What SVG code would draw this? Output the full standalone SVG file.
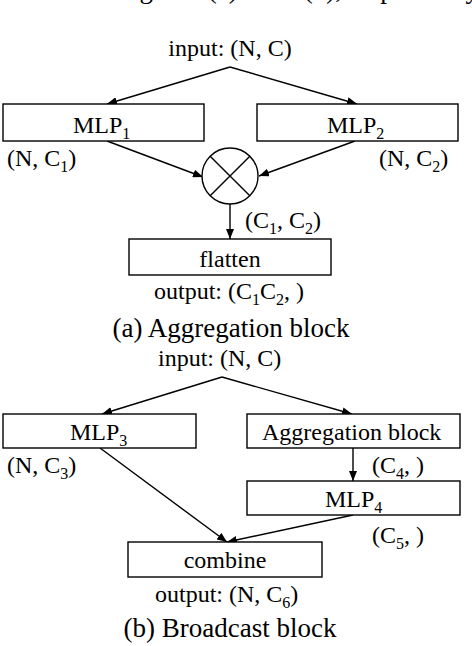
<svg xmlns="http://www.w3.org/2000/svg" width="472" height="646" viewBox="0 0 472 646">
<style>
text{font-family:"Liberation Serif","Times New Roman",serif;font-size:24px;fill:#000}
.cap{font-size:27px}
.s{font-size:16px}
.box{fill:#fff;stroke:#000;stroke-width:1.4}
.ln{fill:none;stroke:#000;stroke-width:1.4;marker-end:url(#ah)}
</style>
<defs>
<marker id="ah" markerUnits="userSpaceOnUse" markerWidth="11" markerHeight="8" refX="10" refY="4" orient="auto">
<path d="M0,0 L10,4 L0,8 z" fill="#000"/>
</marker>
</defs>
<rect width="472" height="646" fill="#fff"/>
<text class="cap" x="117" y="-2">Figure 3(a) and 3(b), respectively</text>

<g id="connectors">
<line class="ln" x1="230" y1="67" x2="107" y2="104"/>
<line class="ln" x1="230" y1="67" x2="357" y2="104"/>
<line class="ln" x1="107" y1="141" x2="203" y2="177"/>
<line class="ln" x1="355" y1="141" x2="259" y2="176"/>
<line class="ln" x1="230" y1="204" x2="230" y2="239"/>
<line class="ln" x1="222" y1="377" x2="102" y2="414"/>
<line class="ln" x1="222" y1="377" x2="352" y2="414"/>
<line class="ln" x1="353" y1="448" x2="353" y2="481"/>
<line class="ln" x1="100" y1="448" x2="227" y2="542"/>
<line class="ln" x1="353" y1="515" x2="227" y2="542"/>
</g>

<g id="a-input"><text x="230" y="56" text-anchor="middle">input: (N, C)</text></g>
<g id="mlp1">
<rect class="box" x="3" y="104" width="201" height="37"/>
<text x="73" y="133">MLP<tspan class="s" dy="6">1</tspan></text>
<text x="7" y="166">(N, C<tspan class="s" dy="6">1</tspan><tspan dy="-6">)</tspan></text>
</g>
<g id="mlp2">
<rect class="box" x="257" y="104" width="201" height="37"/>
<text x="327" y="133">MLP<tspan class="s" dy="6">2</tspan></text>
<text x="379" y="166">(N, C<tspan class="s" dy="6">2</tspan><tspan dy="-6">)</tspan></text>
</g>
<g id="outer-product">
<circle cx="230" cy="176" r="28" fill="#fff" stroke="#000" stroke-width="1.4"/>
<path d="M210.2,156.2 L249.8,195.8 M249.8,156.2 L210.2,195.8" stroke="#000" stroke-width="1.4"/>
<text x="245" y="228">(C<tspan class="s" dy="6">1</tspan><tspan dy="-6">, C</tspan><tspan class="s" dy="6">2</tspan><tspan dy="-6">)</tspan></text>
</g>
<g id="flatten">
<rect class="box" x="129" y="239" width="202" height="36"/>
<text x="230" y="267" text-anchor="middle">flatten</text>
<text x="154" y="299">output: (C<tspan class="s" dy="6">1</tspan><tspan dy="-6">C</tspan><tspan class="s" dy="6">2</tspan><tspan dy="-6">, )</tspan></text>
</g>
<g id="caption-a"><text class="cap" x="231" y="337" text-anchor="middle">(a) Aggregation block</text></g>

<g id="b-input"><text x="158" y="366">input: (N, C)</text></g>
<g id="mlp3">
<rect class="box" x="3" y="414" width="193" height="34"/>
<text x="70" y="440">MLP<tspan class="s" dy="6">3</tspan></text>
<text x="7" y="473">(N, C<tspan class="s" dy="6">3</tspan><tspan dy="-6">)</tspan></text>
</g>
<g id="aggregation">
<rect class="box" x="247" y="414" width="213" height="34"/>
<text x="262" y="440">Aggregation block</text>
<text x="372" y="473">(C<tspan class="s" dy="6">4</tspan><tspan dy="-6">, )</tspan></text>
</g>
<g id="mlp4">
<rect class="box" x="247" y="481" width="213" height="34"/>
<text x="325" y="507">MLP<tspan class="s" dy="6">4</tspan></text>
<text x="372" y="543">(C<tspan class="s" dy="6">5</tspan><tspan dy="-6">, )</tspan></text>
</g>
<g id="combine">
<rect class="box" x="128" y="542" width="194" height="35"/>
<text x="225" y="568" text-anchor="middle">combine</text>
<text x="155" y="602">output: (N, C<tspan class="s" dy="6">6</tspan><tspan dy="-6">)</tspan></text>
</g>
<g id="caption-b"><text class="cap" x="230" y="637" text-anchor="middle">(b) Broadcast block</text></g>
</svg>
